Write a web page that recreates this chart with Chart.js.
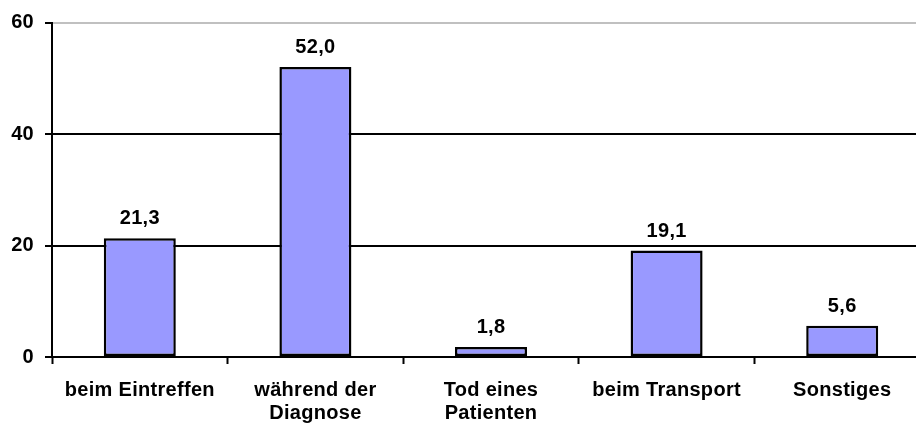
<!DOCTYPE html>
<html>
<head>
<meta charset="utf-8">
<script src="https://cdn.jsdelivr.net/npm/chart.js@4"></script>
<style>
  html, body { margin: 0; padding: 0; background: #fff; overflow: hidden; }
  #wrap { width: 930px; height: 426px; }
</style>
</head>
<body>
<div id="wrap"><canvas id="chart"></canvas></div>
<script>
'use strict'

// **** DATA ****
let categories = [
    'beim Eintreffen',
    ['während der', 'Diagnose'],
    ['Tod eines', 'Patienten'],
    'beim Transport',
    'Sonstiges'
];
let values = [21.3, 52.0, 1.8, 19.1, 5.6];
let yTicks = [0, 20, 40, 60];

const FONT = { family: '"Liberation Sans", Arial, sans-serif', size: 20, weight: 'bold', lineHeight: 1.15 };
const SPACING = '0.3px';

// **** PLUGINS ****

// the original text is set a touch wide; canvas resizes reset this, so set it every time
const wideText = {
    id: 'wideText',
    beforeUpdate(chart) { chart.ctx.letterSpacing = SPACING; },
    beforeLayout(chart) { chart.ctx.letterSpacing = SPACING; },
    beforeDraw(chart) { chart.ctx.letterSpacing = SPACING; }
};

const valueLabels = {
    id: 'valueLabels',
    afterDatasetsDraw(chart) {
        let ctx = chart.ctx;
        let meta = chart.getDatasetMeta(0);
        ctx.save();
        ctx.font = `bold ${FONT.size}px ${FONT.family}`;
        ctx.fillStyle = '#000';
        ctx.textAlign = 'center';
        ctx.textBaseline = 'alphabetic';
        meta.data.forEach((bar, i) => {
            ctx.fillText(values[i].toFixed(1).replace('.', ','), bar.x, bar.y - 14);
        });
        ctx.restore();
    }
};

// **** CHART ****
const config = {
    type: 'bar',
    data: {
        labels: categories,
        datasets: [{
            data: values,
            backgroundColor: '#9999ff',
            borderColor: '#000',
            borderWidth: 2.5,
            borderSkipped: false,
            barPercentage: 0.41,
            categoryPercentage: 1
        }]
    },
    options: {
        responsive: true,
        maintainAspectRatio: false,
        animation: false,
        layout: { padding: { top: 17, left: 0, right: 0, bottom: 0 } },
        plugins: {
            legend: { display: false },
            tooltip: { enabled: false }
        },
        scales: {
            x: {
                offset: true,
                grid: {
                    offset: true,
                    drawOnChartArea: false,
                    drawTicks: true,
                    tickLength: 7,
                    tickWidth: 2,
                    tickColor: '#000'
                },
                border: { color: '#000', width: 2 },
                ticks: {
                    color: '#000',
                    font: FONT,
                    padding: 15,
                    maxRotation: 0,
                    autoSkip: false
                },
                afterFit(scale) { scale.height = 69; }
            },
            y: {
                min: 0,
                max: 60,
                afterBuildTicks(scale) {
                    scale.ticks = yTicks.map(v => ({ value: v }));
                },
                grid: {
                    color: ctx => ctx.tick && ctx.tick.value === 60 ? '#c0c0c0' : '#000',
                    lineWidth: 2,
                    drawTicks: true,
                    tickLength: 7,
                    tickWidth: 2,
                    tickColor: '#000'
                },
                border: { color: '#000', width: 2 },
                ticks: {
                    color: '#000',
                    font: FONT,
                    padding: 11
                },
                afterFit(scale) { scale.width = 52; }
            }
        }
    },
    plugins: [wideText, valueLabels]
};

new Chart(document.getElementById('chart'), config);
</script>
</body>
</html>
